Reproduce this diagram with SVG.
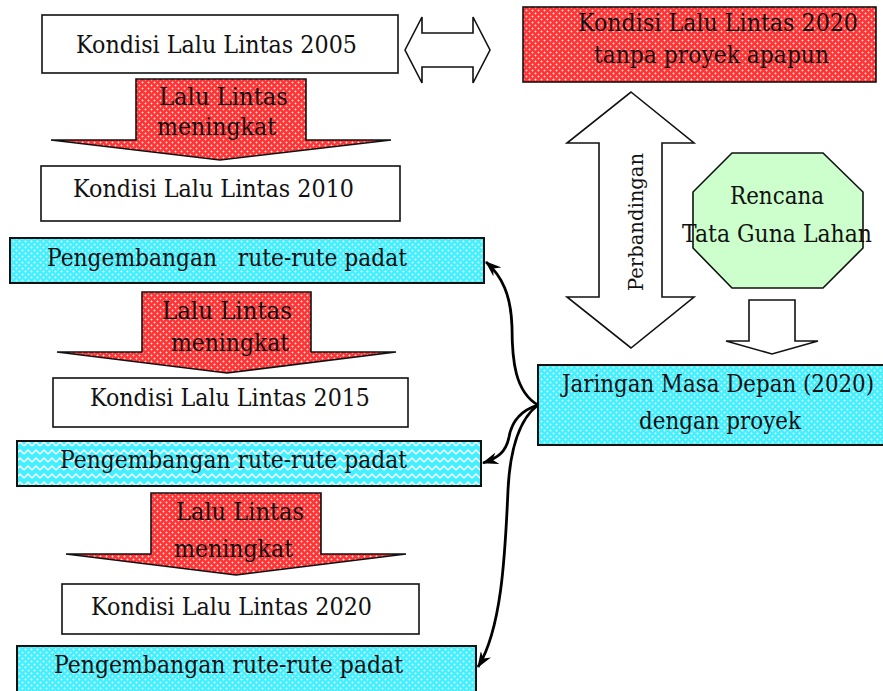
<svg xmlns="http://www.w3.org/2000/svg" width="883" height="691" viewBox="0 0 883 691">
<style>
text{font-family:"DejaVu Serif","Liberation Serif",serif;font-size:23.5px;fill:#111;text-anchor:middle;white-space:pre}
.box{fill:#fff;stroke:#111;stroke-width:1.6}
.red{fill:url(#redPat);stroke:#111;stroke-width:1.6}
.cyan{fill:url(#cyanPat);stroke:#111;stroke-width:2}
.cyan2{fill:url(#cyanZig);stroke:#111;stroke-width:2}
.white{fill:#fff;stroke:#111;stroke-width:1.6}
.conn{fill:none;stroke:#000;stroke-width:2.8}
</style>
<defs>
<pattern id="redPat" width="6" height="6" patternUnits="userSpaceOnUse">
<rect width="6" height="6" fill="#ff3535"/>
<path d="M1.5,0.3 L2.7,1.5 L1.5,2.7 L0.3,1.5 z M4.5,3.3 L5.7,4.5 L4.5,5.7 L3.3,4.5 z" fill="#fff" opacity="0.8"/>
</pattern>
<pattern id="cyanPat" width="6" height="6" patternUnits="userSpaceOnUse">
<rect width="6" height="6" fill="#44f0ff"/>
<path d="M1.5,0.3 L2.7,1.5 L1.5,2.7 L0.3,1.5 z M4.5,3.3 L5.7,4.5 L4.5,5.7 L3.3,4.5 z" fill="#fff" opacity="0.85"/>
</pattern>
<pattern id="cyanZig" width="8" height="8" patternUnits="userSpaceOnUse">
<rect width="8" height="8" fill="#44f0ff"/>
<path d="M0,6 L4,2 L8,6" fill="none" stroke="#fff" stroke-width="1.5"/>
</pattern>
<marker id="ah" viewBox="0 0 16 12" markerWidth="16" markerHeight="12" refX="15" refY="6" orient="auto" markerUnits="userSpaceOnUse">
<path d="M0,0 L16,6 L0,12 L5,6 z" fill="#000"/>
</marker>
</defs>

<g id="box2005">
<rect class="box" x="42" y="15" width="356" height="58"/>
<text x="216.5" y="53" textLength="281" lengthAdjust="spacingAndGlyphs">Kondisi Lalu Lintas 2005</text>
</g>

<g id="hArrow">
<polygon class="white" points="405,50 422,17 422,33 473,33 473,17 490,50 473,83 473,67 422,67 422,83"/>
</g>

<g id="box2020noProject">
<rect class="red" x="523" y="7" width="353" height="75"/>
<text x="718" y="31" textLength="280" lengthAdjust="spacingAndGlyphs">Kondisi Lalu Lintas 2020</text>
<text x="711.5" y="63" textLength="235" lengthAdjust="spacingAndGlyphs">tanpa proyek apapun</text>
</g>

<g id="arrow1">
<polygon class="red" points="136,79 306,79 306,140 391,140 220,160 51,140 136,140"/>
<text x="223.5" y="105" textLength="129" lengthAdjust="spacingAndGlyphs">Lalu Lintas</text>
<text x="216.5" y="135" textLength="119" lengthAdjust="spacingAndGlyphs">meningkat</text>
</g>

<g id="box2010">
<rect class="box" x="41" y="166" width="359" height="55"/>
<text x="213.5" y="197" textLength="281" lengthAdjust="spacingAndGlyphs">Kondisi Lalu Lintas 2010</text>
</g>

<g id="rute1">
<rect class="cyan" x="10" y="238" width="474" height="45"/>
<text x="227" y="266" textLength="360" lengthAdjust="spacingAndGlyphs">Pengembangan   rute-rute padat</text>
</g>

<g id="arrow2">
<polygon class="red" points="142,292 311,292 311,352 396,352 227,373 57,352 142,352"/>
<text x="227" y="319" textLength="130" lengthAdjust="spacingAndGlyphs">Lalu Lintas</text>
<text x="230" y="351" textLength="118" lengthAdjust="spacingAndGlyphs">meningkat</text>
</g>

<g id="box2015">
<rect class="box" x="53" y="378" width="355" height="49"/>
<text x="230" y="406" textLength="280" lengthAdjust="spacingAndGlyphs">Kondisi Lalu Lintas 2015</text>
</g>

<g id="rute2">
<rect class="cyan2" x="17" y="441" width="464" height="45"/>
<text x="233.5" y="468" textLength="347" lengthAdjust="spacingAndGlyphs">Pengembangan rute-rute padat</text>
</g>

<g id="arrow3">
<polygon class="red" points="151,493 321,493 321,554 406,554 236,575 66,554 151,554"/>
<text x="240" y="520" textLength="128" lengthAdjust="spacingAndGlyphs">Lalu Lintas</text>
<text x="233.5" y="557" textLength="119" lengthAdjust="spacingAndGlyphs">meningkat</text>
</g>

<g id="box2020">
<rect class="box" x="62" y="584" width="357" height="50"/>
<text x="231.5" y="615" textLength="281" lengthAdjust="spacingAndGlyphs">Kondisi Lalu Lintas 2020</text>
</g>

<g id="rute3">
<rect class="cyan" x="17" y="646" width="459" height="46"/>
<text x="228.5" y="673" textLength="349" lengthAdjust="spacingAndGlyphs">Pengembangan rute-rute padat</text>
</g>

<g id="perbandingan">
<polygon class="white" points="631,92 694,143 662,143 662,297 694,297 631,348 567,297 599,297 599,143 567,143"/>
<text transform="translate(643,222) rotate(-90)" x="0" y="0" style="font-size:21px" textLength="138" lengthAdjust="spacingAndGlyphs">Perbandingan</text>
</g>

<g id="tataGuna">
<polygon points="732,153 823,153 863,192 863,248 823,288 732,288 693,248 693,192" fill="#ccffcc" stroke="#111" stroke-width="1.6"/>
<text x="777" y="204" textLength="94" lengthAdjust="spacingAndGlyphs">Rencana</text>
<text x="777" y="242" textLength="190" lengthAdjust="spacingAndGlyphs">Tata Guna Lahan</text>
</g>

<g id="downArrow">
<polygon class="white" points="749,300 795,300 795,341 818,341 772,354 726,341 749,341"/>
</g>

<g id="jaringan">
<rect class="cyan" x="538" y="365" width="350" height="80"/>
<text x="718" y="392" textLength="312" lengthAdjust="spacingAndGlyphs">Jaringan Masa Depan (2020)</text>
<text x="720" y="429" textLength="162" lengthAdjust="spacingAndGlyphs">dengan proyek</text>
</g>

<g id="connectors">
<path class="conn" marker-end="url(#ah)" d="M538,405 C515,392 512,360 512,327 C511,295 502,276 486,262"/>
<path class="conn" marker-end="url(#ah)" d="M538,405 C522,410 512,420 509,437 C506,452 498,458 483,463"/>
<path class="conn" marker-end="url(#ah)" d="M538,405 C518,420 510,450 508,490 C505,560 501,630 478,667"/>
</g>
</svg>
